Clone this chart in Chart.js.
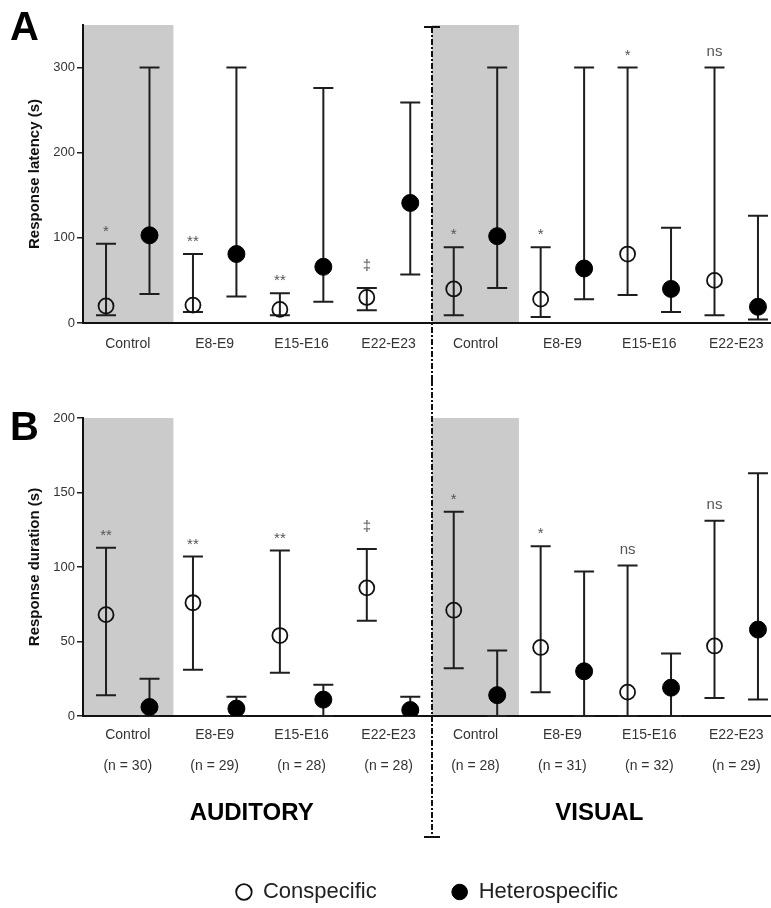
<!DOCTYPE html>
<html>
<head>
<meta charset="utf-8">
<title>Response latency and duration</title>
<script src="https://cdn.jsdelivr.net/npm/chart.js@4.4.1/dist/chart.umd.min.js"></script>
<style>
  html, body { margin: 0; padding: 0; background: #fff; }
  body { width: 771px; height: 908px; position: relative; overflow: hidden; }
  canvas { position: absolute; left: 0; }
  #latency { top: 0; }
  #duration { top: 380px; }
</style>
</head>
<body>
<canvas id="latency" width="771" height="380"></canvas>
<canvas id="duration" width="771" height="533"></canvas>
<script>
const groups = ["Control", "E8-E9", "E15-E16", "E22-E23", "Control", "E8-E9", "E15-E16", "E22-E23"];
const groupN = ["(n = 30)", "(n = 29)", "(n = 28)", "(n = 28)", "(n = 28)", "(n = 31)", "(n = 32)", "(n = 29)"];
const modalities = ["AUDITORY", "VISUAL"];

// A: response latency (s), median with range
const latConMed  = [20, 21, 16, 30, 40, 28, 81, 50];
const latConLow  = [9, 13, 9, 15, 9, 7, 33, 9];
const latConHigh = [93, 81, 35, 41, 89, 89, 300, 300];
const latHetMed  = [103, 81, 66, 141, 102, 64, 40, 19];
const latHetLow  = [34, 31, 25, 57, 41, 28, 13, 4];
const latHetHigh = [300, 300, 276, 259, 300, 300, 112, 126];
const latMarks   = ["*", "**", "**", "‡", "*", "*", "*", "ns"];
const latTicks   = [0, 100, 200, 300];

// B: response duration (s)
const durConMed  = [68, 76, 54, 86, 71, 46, 16, 47];
const durConLow  = [14, 31, 29, 64, 32, 16, 0, 12];
const durConHigh = [113, 107, 111, 112, 137, 114, 101, 131];
const durHetMed  = [6, 5, 11, 4, 14, 30, 19, 58];
const durHetLow  = [0, 0, 0, 0, 0, 0, 0, 11];
const durHetHigh = [25, 13, 21, 13, 44, 97, 42, 163];
const durMarks   = ["**", "**", "**", "‡", "*", "*", "ns", "ns"];
const durTicks   = [0, 50, 100, 150, 200];

// control groups are shaded; x units: conspecific at 2*i, heterospecific at 2*i+1
const shaded = [[-0.55, 1.55], [7.5, 9.5]];

Chart.defaults.font.family = '"Liberation Sans", Arial, sans-serif';
Chart.defaults.color = "#333";

function points(values, offset) {
    return values.map((v, i) => ({x: 2 * i + offset, y: v}));
}

const figurePlugin = {
    id: "figure",
    beforeDraw(chart) {
        const {ctx, chartArea: area, scales: {x}} = chart;
        ctx.save();
        ctx.fillStyle = "#cbcbcb";
        shaded.forEach(([a, b]) => {
            const left = Math.max(x.getPixelForValue(a), area.left);
            ctx.fillRect(left, area.top, x.getPixelForValue(b) - left, area.bottom - area.top);
        });
        ctx.restore();
    },
    beforeDatasetsDraw(chart) {
        const {ctx, scales: {y}} = chart;
        ctx.save();
        ctx.strokeStyle = "#1e1e1e";
        ctx.lineWidth = 2;
        chart.data.datasets.forEach((ds, d) => {
            chart.getDatasetMeta(d).data.forEach((pt, i) => {
                const lo = y.getPixelForValue(ds.low[i]);
                const hi = y.getPixelForValue(ds.high[i]);
                ctx.beginPath();
                ctx.moveTo(pt.x, lo);
                ctx.lineTo(pt.x, hi);
                ctx.moveTo(pt.x - 10, lo);
                ctx.lineTo(pt.x + 10, lo);
                ctx.moveTo(pt.x - 10, hi);
                ctx.lineTo(pt.x + 10, hi);
                ctx.stroke();
            });
        });
        ctx.restore();
    },
    afterDatasetsDraw(chart) {
        const {ctx, scales: {x, y}} = chart;
        const con = chart.data.datasets[0];
        ctx.save();
        ctx.fillStyle = "#555";
        ctx.font = '15px "Liberation Sans"';
        ctx.textAlign = "center";
        con.marks.forEach((m, i) => {
            const drop = ctx.measureText(m).actualBoundingBoxDescent;
            const gap = m === "‡" ? 17 : 12;
            ctx.fillText(m, x.getPixelForValue(2 * i), y.getPixelForValue(con.high[i]) - gap - drop);
        });
        ctx.restore();
    },
    afterDraw(chart, args, opts) {
        const {ctx, chartArea: area, scales: {x}} = chart;
        const dx = x.getPixelForValue(7.5);
        const y0 = opts.capTop ? area.top + 2 : 0;
        const y1 = opts.capTop ? chart.height : opts.lineEnd;
        ctx.save();
        ctx.strokeStyle = "#111";
        ctx.lineWidth = 2;
        ctx.setLineDash([6, 2, 2, 2]);
        ctx.beginPath();
        ctx.moveTo(dx, y0);
        ctx.lineTo(dx, y1);
        ctx.stroke();
        ctx.setLineDash([]);
        const capY = opts.capTop ? y0 : y1;
        ctx.beginPath();
        ctx.moveTo(dx - 8, capY);
        ctx.lineTo(dx + 8, capY);
        ctx.stroke();

        ctx.fillStyle = "#000";
        ctx.font = 'bold 40px "Liberation Sans"';
        ctx.textAlign = "left";
        ctx.fillText(opts.letter, 10, opts.letterY);

        if (opts.modalityY) {
            ctx.font = 'bold 24px "Liberation Sans"';
            ctx.textAlign = "center";
            ctx.textBaseline = "middle";
            modalities.forEach((m, i) => ctx.fillText(m, x.getPixelForValue(3.35 + 8 * i), opts.modalityY));
        }
        ctx.restore();
    }
};

function makePanel(canvasId, cfg) {
    return new Chart(document.getElementById(canvasId).getContext("2d"), {
        type: "scatter",
        data: {
            datasets: [{
                label: "Conspecific",
                data: points(cfg.conMed, 0),
                low: cfg.conLow,
                high: cfg.conHigh,
                marks: cfg.marks,
                pointRadius: 7.5,
                pointBorderWidth: 1.8,
                pointBackgroundColor: "rgba(0,0,0,0)",
                pointBorderColor: "#111",
                backgroundColor: "rgba(0,0,0,0)",
                borderColor: "#111",
                borderWidth: 1.8
            }, {
                label: "Heterospecific",
                data: points(cfg.hetMed, 1),
                low: cfg.hetLow,
                high: cfg.hetHigh,
                pointRadius: 8.5,
                pointBorderWidth: 1,
                pointBackgroundColor: "#000",
                pointBorderColor: "#000",
                backgroundColor: "#000",
                borderColor: "#000",
                borderWidth: 1
            }]
        },
        options: {
            responsive: false,
            animation: false,
            events: [],
            layout: {autoPadding: false, padding: {top: cfg.top, left: 0, right: 0, bottom: 0}},
            plugins: {
                legend: cfg.legend,
                tooltip: {enabled: false},
                figure: cfg.figure
            },
            scales: {
                x: {
                    type: "linear",
                    min: -0.53,
                    max: 15.3,
                    grid: {display: false, drawTicks: false},
                    border: {color: "#111", width: 2},
                    afterBuildTicks: s => { s.ticks = groups.map((g, i) => ({value: 2 * i + 0.5})); },
                    afterFit: s => { s.height = cfg.xHeight; },
                    ticks: {
                        autoSkip: false,
                        maxRotation: 0,
                        padding: 4,
                        color: "#333",
                        font: {size: 14, lineHeight: cfg.labelLine},
                        callback: (v, i) => cfg.label(i)
                    }
                },
                y: {
                    min: 0,
                    max: cfg.yMax,
                    afterBuildTicks: s => { s.ticks = cfg.yTicks.map(v => ({value: v})); },
                    afterFit: s => { s.width = 83; },
                    grid: {drawOnChartArea: false, drawTicks: true, tickLength: 6, color: "#222", lineWidth: 1.5},
                    border: {color: "#111", width: 2},
                    ticks: {padding: 2, color: "#333", font: {size: 13}},
                    title: {
                        display: true,
                        text: cfg.yTitle,
                        color: "#111",
                        font: {size: 15, weight: "bold"},
                        padding: {top: 26}
                    }
                }
            }
        },
        plugins: [figurePlugin]
    });
}

const latencyChart = makePanel("latency", {
    conMed: latConMed, conLow: latConLow, conHigh: latConHigh,
    hetMed: latHetMed, hetLow: latHetLow, hetHigh: latHetHigh,
    marks: latMarks,
    yMax: 350,
    yTicks: latTicks,
    yTitle: "Response latency (s)",
    top: 25,
    xHeight: 57,
    labelLine: 2.4,
    label: i => groups[i],
    legend: {display: false},
    figure: {letter: "A", letterY: 40, capTop: true}
});

const durationChart = makePanel("duration", {
    conMed: durConMed, conLow: durConLow, conHigh: durConHigh,
    hetMed: durHetMed, hetLow: durHetLow, hetHigh: durHetHigh,
    marks: durMarks,
    yMax: 200,
    yTicks: durTicks,
    yTitle: "Response duration (s)",
    top: 38,
    xHeight: 90,
    labelLine: 2.2,
    label: i => [groups[i], groupN[i]],
    legend: {
        display: true,
        position: "bottom",
        fullSize: false,
        labels: {
            usePointStyle: true,
            pointStyle: "circle",
            boxWidth: 16,
            boxHeight: 11,
            padding: 75,
            color: "#222",
            font: {size: 22}
        }
    },
    figure: {letter: "B", letterY: 49, capTop: false, lineEnd: 457, modalityY: 433}
});
</script>
</body>
</html>
